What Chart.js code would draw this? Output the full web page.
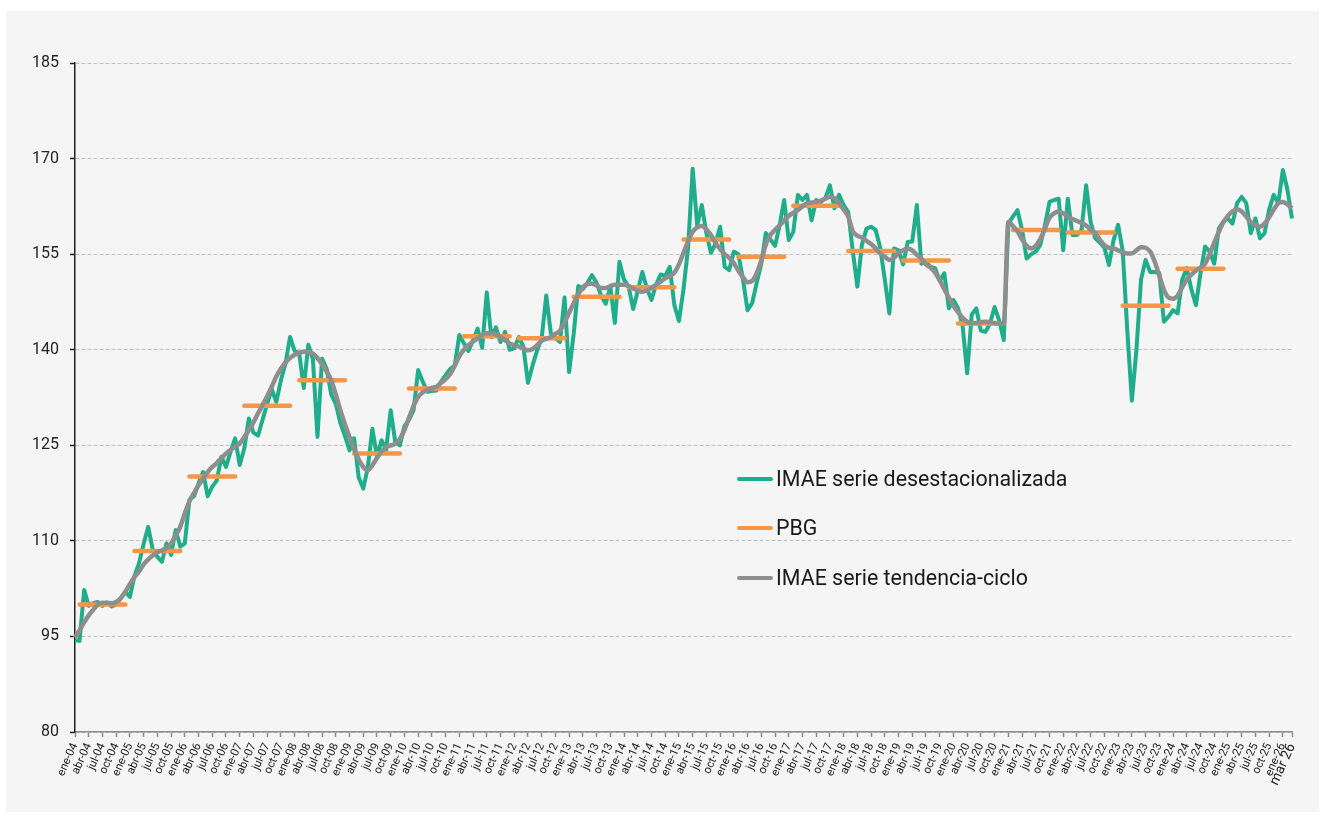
<!DOCTYPE html>
<html lang="es">
<head>
<meta charset="utf-8">
<title>IMAE y PBG</title>
<script src="https://cdn.jsdelivr.net/npm/chart.js@4.4.1/dist/chart.umd.min.js"></script>
<style>
  html, body { margin: 0; padding: 0; background: #fff; }
  body { width: 1325px; height: 818px; position: relative; overflow: hidden; font-family: Roboto, "Noto Sans", sans-serif; }
  #panel { position: absolute; left: 6px; top: 11px; width: 1313px; height: 801px; background: #f5f5f5; }
  #chart { position: absolute; left: 0; top: 0; }
  .legend { position: absolute; left: 731px; top: 0; }
  .legend .row { position: absolute; left: 0; height: 26px; line-height: 26px; white-space: nowrap; font-size: 21.4px; color: #1a1a1a; }
  .legend .swatch { display: inline-block; width: 36px; height: 4px; border-radius: 2px; vertical-align: middle; margin-right: 3px; position: relative; top: -1px; }
</style>
</head>
<body>
<div id="panel">
  <canvas id="chart" width="1313" height="801"></canvas>
  <div class="legend">
    <div class="row" style="top:455px"><span class="swatch" style="background:#1fad8b"></span>IMAE serie desestacionalizada</div>
    <div class="row" style="top:504px"><span class="swatch" style="background:#f79646"></span>PBG</div>
    <div class="row" style="top:554px"><span class="swatch" style="background:#8e8e8e"></span>IMAE serie tendencia-ciclo</div>
  </div>
</div>
<script>
// monthly series, ene-04 .. mar-26 (one row per year)
const monthNames = ['ene', 'feb', 'mar', 'abr', 'may', 'jun', 'jul', 'ago', 'sep', 'oct', 'nov', 'dic'];
const firstYear = 2004;
const lastLabel = 'mar 26';

const seasAdj = [
  94.4, 94.3, 102.3, 99.8, 100.2, 100.4, 99.8, 100.3, 99.7, 100.0, 101.0, 102.0,
  101.2, 104.5, 106.5, 109.5, 112.2, 108.6, 107.5, 106.7, 109.6, 107.8, 111.7, 109.1,
  109.6, 116.4, 117.0, 119.0, 120.8, 117.0, 118.5, 119.5, 123.2, 121.6, 124.0, 126.1,
  121.9, 124.5, 129.2, 127.0, 126.5, 129.0, 131.5, 133.8, 131.8, 135.2, 137.8, 142.0,
  139.8, 139.5, 134.0, 140.8, 138.5, 126.3, 138.6, 137.0, 133.0, 131.5, 128.5, 126.5,
  124.2, 126.1, 120.0, 118.2, 121.5, 127.6, 123.2, 125.8, 124.3, 130.5, 125.5, 125.0,
  128.0, 129.0, 130.5, 136.8, 135.0, 133.4, 133.5, 133.6, 135.0, 136.0, 137.0, 137.5,
  142.3, 141.0, 139.8, 141.5, 143.3, 140.3, 149.0, 142.0, 143.5, 141.2, 142.8, 140.0,
  140.2, 142.0, 140.5, 134.8, 137.5, 139.9, 141.8, 148.5, 142.6, 141.8, 141.2, 148.2,
  136.5, 142.5, 150.0, 149.5, 150.5, 151.7, 150.5, 148.5, 147.2, 149.9, 144.2, 153.8,
  151.0, 149.9, 146.4, 149.2, 152.2, 149.6, 147.8, 150.2, 151.8, 151.6, 153.0, 147.0,
  144.5, 149.5, 156.0, 168.4, 159.5, 162.7, 158.3, 155.2, 156.7, 159.3, 153.0, 152.5,
  155.4, 155.0, 151.0, 146.2, 147.3, 150.5, 153.5, 158.3, 157.3, 156.3, 159.5, 163.5,
  157.2, 158.5, 164.3, 163.5, 164.3, 160.3, 163.5, 163.2, 163.8, 165.8, 162.2, 164.3,
  162.7, 161.6, 155.5, 149.9, 156.5, 159.0, 159.3, 158.8, 156.0, 151.0, 145.7, 155.9,
  155.6, 153.4, 156.9, 157.0, 162.7, 153.5, 153.8, 153.0, 152.8, 150.8, 152.0, 146.5,
  147.8, 146.5, 143.8, 136.3, 145.5, 146.5, 143.0, 142.8, 144.1, 146.7, 144.6, 141.5,
  159.8, 160.9, 161.9, 158.8, 154.3, 155.0, 155.4, 156.5, 159.5, 163.2, 163.5, 163.7,
  155.6, 163.7, 158.0, 158.0, 158.8, 165.8, 160.0, 157.5, 156.8, 156.0, 153.3, 157.2,
  159.6, 155.5, 143.0, 132.0, 140.0, 151.0, 154.1, 152.2, 152.2, 152.0, 144.4, 145.2,
  146.2, 145.7, 151.0, 152.8, 149.5, 147.0, 152.0, 156.2, 155.4, 153.5, 159.0, 160.1,
  160.6, 159.8, 163.0, 164.0, 163.0, 158.3, 160.6, 157.5, 158.3, 162.0, 164.3, 163.0,
  168.2, 165.1, 160.6
];

const trendCycle = [
  94.8, 96.0, 97.2, 98.3, 99.2, 100.0, 100.3, 100.3, 100.2, 100.4, 101.0, 102.0,
  103.2, 104.3, 105.2, 106.3, 107.1, 107.7, 108.2, 108.5, 108.9, 109.6, 110.8, 112.2,
  114.3, 116.2, 117.5, 118.7, 119.8, 120.8, 121.6, 122.2, 123.0, 123.7, 124.3, 124.8,
  125.3, 126.3, 127.4, 128.6, 130.0, 131.3, 132.7, 134.2, 135.8, 137.0, 138.0, 138.7,
  139.2, 139.5, 139.7, 139.7, 139.4, 138.7, 137.7, 136.6, 135.2, 133.0, 130.5, 128.3,
  126.3, 124.4, 122.8, 121.6, 121.1, 121.9, 123.0, 124.0, 124.7, 125.0, 125.2, 126.0,
  127.4, 129.3, 131.2, 132.6, 133.3, 133.7, 134.0, 134.2, 134.8, 135.4, 136.2, 137.5,
  139.0, 140.0, 140.7, 141.3, 141.8, 142.3, 142.6, 142.6, 142.4, 142.0, 141.5, 141.0,
  140.7, 140.5, 140.2, 139.9, 140.1, 140.7, 141.4, 141.7, 142.0, 142.5, 143.0, 144.3,
  145.8, 147.3, 148.7, 149.8, 150.3, 150.4, 150.1, 149.7, 149.7, 150.0, 150.2, 150.2,
  150.2, 150.0, 149.6, 149.3, 149.1, 149.3, 149.7, 150.2, 150.7, 151.2, 151.6, 152.1,
  153.4, 155.2, 157.0, 158.5, 159.2, 159.4, 158.9, 158.0, 156.8, 155.8, 155.0, 154.4,
  153.6, 152.4, 151.4, 150.6, 150.8, 152.0, 154.0, 156.5, 158.0, 158.8, 159.5, 160.3,
  161.0, 161.5, 161.9, 162.5, 163.0, 163.1, 163.2, 163.4, 163.7, 164.0, 163.8, 163.0,
  162.0, 160.9, 158.6, 157.9, 157.6, 157.1, 156.6, 155.9, 155.1, 154.6, 154.1, 154.4,
  155.2, 155.6, 155.9, 155.6, 154.9, 154.3, 153.4, 152.9, 152.1, 150.9, 149.5, 148.2,
  146.9, 145.9, 145.0, 144.4, 144.2, 144.2, 144.3, 144.4, 144.3, 144.2, 144.1, 144.1,
  160.1, 159.4, 158.6, 157.3, 156.3, 155.9, 156.3, 157.4, 159.0, 160.7, 161.4, 161.7,
  161.4, 160.9, 160.5, 160.2, 159.9, 159.5, 158.8, 158.3, 157.3, 156.4, 156.0, 155.9,
  155.6, 155.3, 155.1, 155.1, 155.6, 156.1, 156.0, 155.4, 153.8, 151.6, 149.4, 148.2,
  148.0, 148.5, 149.8, 151.0, 151.8, 152.4, 152.9, 153.5, 155.0, 156.8, 158.5, 160.0,
  161.0, 161.7, 162.0, 161.7, 160.9, 160.0, 159.6, 159.3, 159.8, 160.8, 162.0, 163.0,
  163.2, 162.8, 162.2
];

// annual PBG, 2004 .. 2024
const pbgYears = [2004, 2005, 2006, 2007, 2008, 2009, 2010, 2011, 2012, 2013, 2014,
  2015, 2016, 2017, 2018, 2019, 2020, 2021, 2022, 2023, 2024];
const pbgValues = [100.0, 108.4, 120.1, 131.2, 135.2, 123.7, 133.9, 142.1, 141.8, 148.3, 149.8,
  157.3, 154.6, 162.6, 155.5, 154.0, 144.1, 158.8, 158.4, 146.9, 152.7];

const yMin = 80, yMax = 185, yStep = 15;

// labels like "ene-04"
const labels = seasAdj.map((_, i) => {
  const yy = String((firstYear + Math.floor(i / 12)) % 100).padStart(2, '0');
  return monthNames[i % 12] + '-' + yy;
});
labels[labels.length - 1] = lastLabel;
const lastIdx = labels.length - 1;

// each year's PBG drawn as a flat step across the year (jan left blank so steps break)
const pbgMonthly = labels.map((_, i) => {
  const k = pbgYears.indexOf(firstYear + Math.floor(i / 12));
  return (k >= 0 && i % 12 !== 0) ? pbgValues[k] : null;
});

const shown = i => i % 3 === 0 || i === lastIdx;

new Chart(document.getElementById('chart'), {
  type: 'line',
  data: {
    labels: labels,
    datasets: [
      {
        label: 'IMAE serie tendencia-ciclo',
        data: trendCycle,
        borderColor: '#8e8e8e',
        borderWidth: 4.5,
        pointRadius: 0,
        cubicInterpolationMode: 'monotone',
        borderJoinStyle: 'round',
        order: 0
      },
      {
        label: 'PBG',
        data: pbgMonthly,
        borderColor: '#f79646',
        borderWidth: 4.5,
        pointRadius: 0,
        spanGaps: false,
        borderCapStyle: 'round',
        order: 1
      },
      {
        label: 'IMAE serie desestacionalizada',
        data: seasAdj,
        borderColor: '#1fad8b',
        borderWidth: 4,
        pointRadius: 0,
        tension: 0,
        borderJoinStyle: 'round',
        order: 2
      }
    ]
  },
  options: {
    responsive: false,
    animation: false,
    layout: { padding: { top: 52, right: 27, left: 0, bottom: 0 } },
    plugins: { legend: { display: false }, tooltip: { enabled: false } },
    scales: {
      x: {
        offset: false,
        border: { color: '#8c8c8c', width: 1.5 },
        grid: {
          display: true,
          drawOnChartArea: false,
          drawTicks: true,
          tickLength: 5,
          tickWidth: 1.5,
          tickColor: ctx => shown(ctx.index) ? '#8c8c8c' : 'rgba(0,0,0,0)'
        },
        ticks: {
          autoSkip: false,
          minRotation: 66,
          maxRotation: 66,
          padding: 4,
          color: '#222',
          font: ctx => ({ family: 'Roboto', size: ctx.index === lastIdx ? 14 : 11.5 }),
          callback: (v, i) => shown(i) ? labels[i] : ''
        },
        afterFit: s => { s.height = 80; }
      },
      y: {
        min: yMin,
        max: yMax,
        border: { color: '#222', width: 1.5, dash: [4, 2] },
        grid: { color: '#c2c2c2', lineWidth: 1, tickLength: 5, tickColor: '#222', tickWidth: 1.5, tickBorderDash: [] },
        ticks: { stepSize: yStep, padding: 11, color: '#222', font: { family: 'Roboto', size: 16 } },
        afterFit: s => { s.width = 69; }
      }
    }
  }
});
</script>
</body>
</html>
